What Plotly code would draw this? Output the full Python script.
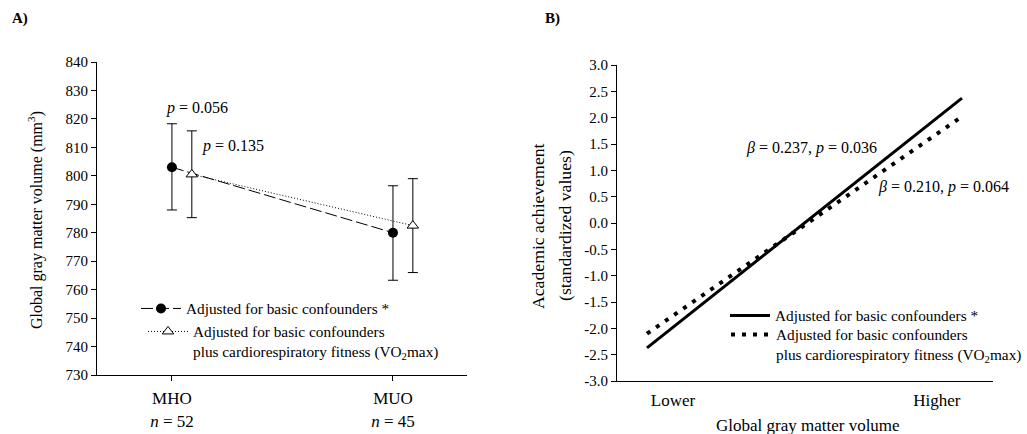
import plotly.graph_objects as go

# ---------------- Data ----------------
# Panel A
groups = ["MHO", "MUO"]
group_n = [52, 45]
basic_mean = [803.0, 780.0]
basic_upper = [818.3, 796.5]
basic_lower = [788.0, 763.3]
vo2_mean = [800.5, 782.5]
vo2_upper = [815.8, 799.0]
vo2_lower = [785.3, 766.0]
p_basic = "0.056"
p_vo2 = "0.135"
a_ticks = [730, 740, 750, 760, 770, 780, 790, 800, 810, 820, 830, 840]

# Panel B
gm_volume = [-2.0, 2.0]            # standardized gray matter volume (line ends)
ach_basic = [-2.37, 2.37]
ach_vo2 = [-2.10, 2.02]
b_ticks = [-3.0, -2.5, -2.0, -1.5, -1.0, -0.5, 0.0, 0.5, 1.0, 1.5, 2.0, 2.5, 3.0]
b_xticklabels = ["Lower", "Higher"]
b_xtickvals = [-1.67, 1.68]
beta_basic, pb_basic = "0.237", "0.036"
beta_vo2, pb_vo2 = "0.210", "0.064"

FONT = "Liberation Serif"
BLACK = "black"
W, H = 1027, 434
LEGFONT = 15.3

leg1 = "Adjusted for basic confounders *"
leg2 = "Adjusted for basic confounders<br>plus cardiorespiratory fitness (VO<sub>2</sub>max)"

x_basic = list(range(len(groups)))
x_vo2 = [i + 0.09 for i in x_basic]

fig = go.Figure()

# Panel A traces
fig.add_trace(go.Scatter(
    x=x_basic, y=basic_mean, mode="lines+markers", name=leg1,
    line=dict(color=BLACK, width=1, dash="12px,4px"),
    marker=dict(symbol="circle", size=10, color=BLACK),
    error_y=dict(type="data", symmetric=False,
                 array=[u - m for u, m in zip(basic_upper, basic_mean)],
                 arrayminus=[m - l for m, l in zip(basic_mean, basic_lower)],
                 color=BLACK, thickness=1, width=5),
    xaxis="x", yaxis="y", legend="legend", hoverinfo="skip"))
fig.add_trace(go.Scatter(
    x=x_vo2, y=vo2_mean, mode="lines+markers", name=leg2,
    line=dict(color=BLACK, width=1, dash="1px,2px"),
    marker=dict(symbol="triangle-up", size=10, color="white",
                line=dict(color=BLACK, width=1)),
    error_y=dict(type="data", symmetric=False,
                 array=[u - m for u, m in zip(vo2_upper, vo2_mean)],
                 arrayminus=[m - l for m, l in zip(vo2_mean, vo2_lower)],
                 color=BLACK, thickness=1, width=5),
    xaxis="x", yaxis="y", legend="legend2", hoverinfo="skip"))

# Panel B traces
fig.add_trace(go.Scatter(
    x=gm_volume, y=ach_basic, mode="lines", name=leg1,
    line=dict(color=BLACK, width=3),
    xaxis="x2", yaxis="y2", legend="legend3", hoverinfo="skip"))
fig.add_trace(go.Scatter(
    x=gm_volume, y=ach_vo2, mode="lines", name=leg2,
    line=dict(color=BLACK, width=4, dash="4px,7px"),
    xaxis="x2", yaxis="y2", legend="legend4", hoverinfo="skip"))

axis_common = dict(showline=True, linecolor=BLACK, linewidth=1, showgrid=False,
                   zeroline=False, ticks="outside", ticklen=5, tickcolor=BLACK,
                   tickwidth=1, automargin=False,
                   tickfont=dict(family=FONT, size=15, color=BLACK))


def leg(px, py, xanchor="left"):
    return dict(x=px / W, y=1 - py / H, xanchor=xanchor, yanchor="top",
                bgcolor="rgba(0,0,0,0)", font=dict(family=FONT, size=LEGFONT, color=BLACK),
                itemclick=False, itemdoubleclick=False, valign="top", itemwidth=40)


fig.update_layout(
    width=W, height=H,
    margin=dict(l=0, r=0, t=0, b=0),
    paper_bgcolor="white", plot_bgcolor="white",
    font=dict(family=FONT, size=15, color=BLACK),
    xaxis=dict(axis_common, domain=[97 / W, 467 / W], range=[-0.339, 1.335],
               tickvals=x_basic,
               ticktext=[f"{g}<br><i>n</i> = {n}" for g, n in zip(groups, group_n)],
               tickfont=dict(family=FONT, size=17, color=BLACK),
               ticklabelstandoff=3, anchor="y"),
    yaxis=dict(axis_common, domain=[1 - 375 / H, 1 - 62 / H], range=[730, 840],
               tickvals=a_ticks, ticktext=[str(v) for v in a_ticks], anchor="x"),
    xaxis2=dict(axis_common, domain=[617 / W, 993 / W], range=[-2.381, 2.394],
                tickvals=b_xtickvals, ticktext=b_xticklabels, ticks="",
                tickfont=dict(family=FONT, size=17, color=BLACK), anchor="y2",
                ticklabelstandoff=4),
    yaxis2=dict(axis_common, domain=[1 - 381 / H, 1 - 65 / H], range=[-3.0, 3.0],
                anchor="x2", tickvals=b_ticks,
                ticktext=[f"{v:.1f}" for v in b_ticks]),
    legend=leg(136, 292),
    legend2=leg(143, 315),
    legend3=leg(725, 299),
    legend4=leg(W, 318, xanchor="right"),
    showlegend=True,
)


def pann(text, px, py, size, angle=0, bold=False):
    return dict(text=f"<b>{text}</b>" if bold else text, xref="paper", yref="paper",
                x=px / W, y=1 - py / H, xanchor="center", yanchor="middle",
                textangle=angle, showarrow=False,
                font=dict(family=FONT, size=size, color=BLACK))


annotations = [
    pann("A)", 20, 18, 15, bold=True),
    pann("B)", 552, 18, 15, bold=True),
    pann("Global gray matter volume (mm<sup>3</sup>)", 35, 220, 16, angle=-90),
    pann("Academic achievement", 538, 226, 17.7, angle=-90),
    pann("(standardized values)", 565, 226, 17.7, angle=-90),
    pann("Global gray matter volume", 808, 425, 17),
    # p-values panel A
    dict(text=f"<i>p</i> = {p_basic}", x=0.113, y=823.8, xref="x", yref="y",
         xanchor="center", yanchor="middle",
         showarrow=False, font=dict(family=FONT, size=16, color=BLACK)),
    dict(text=f"<i>p</i> = {p_vo2}", x=0.276, y=810.5, xref="x", yref="y",
         xanchor="center", yanchor="middle",
         showarrow=False, font=dict(family=FONT, size=16, color=BLACK)),
    # panel B
    dict(text=f"<i>β</i> = {beta_basic}, <i>p</i> = {pb_basic}", x=0.095, y=1.424,
         xref="x2", yref="y2", xanchor="center", yanchor="middle", showarrow=False,
         font=dict(family=FONT, size=16, color=BLACK)),
    dict(text=f"<i>β</i> = {beta_vo2}, <i>p</i> = {pb_vo2}", x=1.759, y=0.684,
         xref="x2", yref="y2", xanchor="center", yanchor="middle", showarrow=False,
         font=dict(family=FONT, size=16, color=BLACK)),
]
fig.update_layout(annotations=annotations)

fig.write_html("out.html", config={"displayModeBar": False, "responsive": False},
               post_script="document.body.style.margin='0px';document.body.style.overflow='hidden';")
